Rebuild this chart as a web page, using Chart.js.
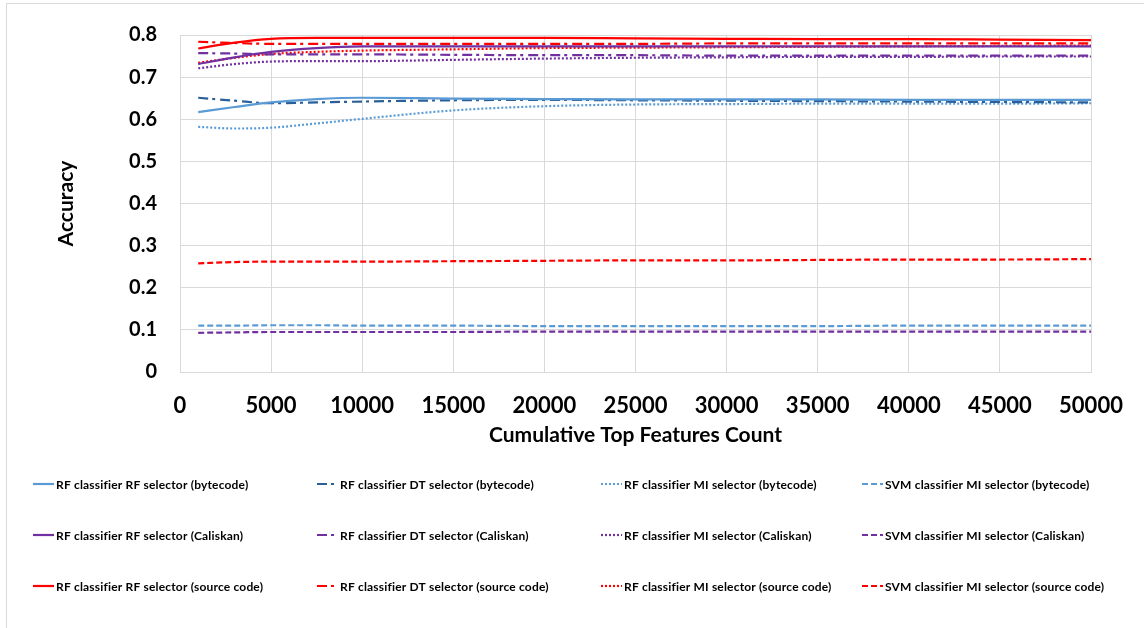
<!DOCTYPE html>
<html>
<head>
<meta charset="utf-8">
<title>Accuracy vs Cumulative Top Features Count</title>
<script src="https://cdn.jsdelivr.net/npm/chart.js@4.4.1/dist/chart.umd.min.js"></script>
<style>
  html, body { margin: 0; padding: 0; background: #ffffff; }
  #wrap { width: 1144px; height: 628px; position: relative; }
</style>
</head>
<body>
<div id="wrap"><canvas id="chart" width="1144" height="628"></canvas></div>
<script>
// Number of cumulative top features used at each measurement
const featureCounts = [1000, 3000, 5000, 7500, 10000, 15000, 20000, 25000, 30000, 35000, 40000, 45000, 50000];

// Bytecode features
const rfRfBytecode   = [0.617, 0.629, 0.640, 0.648, 0.651, 0.649, 0.648, 0.647, 0.647, 0.647, 0.646, 0.646, 0.646];
const rfDtBytecode   = [0.651, 0.644, 0.638, 0.640, 0.642, 0.645, 0.646, 0.645, 0.644, 0.643, 0.642, 0.641, 0.640];
const rfMiBytecode   = [0.582, 0.578, 0.580, 0.590, 0.601, 0.621, 0.631, 0.635, 0.636, 0.637, 0.637, 0.637, 0.638];
const svmMiBytecode  = [0.110, 0.110, 0.111, 0.111, 0.110, 0.110, 0.109, 0.109, 0.109, 0.109, 0.110, 0.110, 0.110];

// Caliskan features
const rfRfCaliskan   = [0.731, 0.747, 0.760, 0.769, 0.773, 0.773, 0.773, 0.773, 0.773, 0.773, 0.773, 0.773, 0.773];
const rfDtCaliskan   = [0.757, 0.756, 0.754, 0.754, 0.754, 0.753, 0.752, 0.752, 0.751, 0.751, 0.751, 0.751, 0.751];
const rfMiCaliskan   = [0.721, 0.731, 0.737, 0.738, 0.738, 0.741, 0.744, 0.746, 0.747, 0.748, 0.748, 0.749, 0.749];
const svmMiCaliskan  = [0.093, 0.094, 0.095, 0.095, 0.095, 0.095, 0.096, 0.096, 0.096, 0.096, 0.096, 0.096, 0.096];

// Source code features
const rfRfSource     = [0.768, 0.782, 0.791, 0.793, 0.793, 0.793, 0.793, 0.792, 0.791, 0.790, 0.790, 0.789, 0.788];
const rfDtSource     = [0.784, 0.781, 0.779, 0.779, 0.779, 0.779, 0.779, 0.779, 0.780, 0.780, 0.780, 0.780, 0.780];
const rfMiSource     = [0.734, 0.746, 0.755, 0.760, 0.763, 0.766, 0.769, 0.770, 0.771, 0.772, 0.773, 0.774, 0.775];
const svmMiSource    = [0.258, 0.261, 0.262, 0.262, 0.262, 0.263, 0.264, 0.265, 0.265, 0.266, 0.267, 0.267, 0.268];

const seriesLabels = [
  'RF classifier RF selector (bytecode)', 'RF classifier DT selector (bytecode)',
  'RF classifier MI selector (bytecode)', 'SVM classifier MI selector (bytecode)',
  'RF classifier RF selector (Caliskan)', 'RF classifier DT selector (Caliskan)',
  'RF classifier MI selector (Caliskan)', 'SVM classifier MI selector (Caliskan)',
  'RF classifier RF selector (source code)', 'RF classifier DT selector (source code)',
  'RF classifier MI selector (source code)', 'SVM classifier MI selector (source code)'
];
const seriesValues = [
  rfRfBytecode, rfDtBytecode, rfMiBytecode, svmMiBytecode,
  rfRfCaliskan, rfDtCaliskan, rfMiCaliskan, svmMiCaliskan,
  rfRfSource, rfDtSource, rfMiSource, svmMiSource
];

const xTickStep = 5000;
const yTickStep = 0.1;

// Styling: one colour per feature set, one dash style per classifier/selector
const featureColors = ['#5B9BD5', '#7030A0', '#FF0000'];
const dtBytecodeColor = '#2A6099';
const dashStyles = [[], [10, 4, 3, 5], [2, 2], [6, 3]];

const FONT = "Lato, 'Open Sans', 'DejaVu Sans', sans-serif";

const datasets = seriesLabels.map((label, i) => {
  const group = Math.floor(i / 4);
  const kind = i % 4;
  const color = (group === 0 && kind === 1) ? dtBytecodeColor : featureColors[group];
  return {
    label: label,
    data: featureCounts.map((x, j) => ({ x: x, y: seriesValues[i][j] })),
    borderColor: color,
    backgroundColor: color,
    borderWidth: 2.2,
    borderDash: dashStyles[kind],
    borderCapStyle: 'butt',
    pointRadius: 0,
    pointHoverRadius: 0,
    fill: false,
    cubicInterpolationMode: 'monotone'
  };
});

// White background and thin outer frame
const framePlugin = {
  id: 'frame',
  beforeDraw(chart) {
    const ctx = chart.ctx;
    ctx.save();
    ctx.fillStyle = '#ffffff';
    ctx.fillRect(0, 0, chart.width, chart.height);
    ctx.strokeStyle = '#D9D9D9';
    ctx.lineWidth = 1;
    ctx.strokeRect(6.5, 3.5, chart.width + 10, chart.height + 10);
    ctx.restore();
  }
};

// Legend laid out as a 4 x 3 grid under the plot
const gridLegendPlugin = {
  id: 'gridLegend',
  afterDraw(chart) {
    const ctx = chart.ctx;
    const colX = [33, 317, 601, 862];
    const rowY = [484, 535, 586];
    const sampleLen = 21;
    ctx.save();
    ctx.font = "bold 12px " + FONT;
    if ('letterSpacing' in ctx) ctx.letterSpacing = '0.18px';
    ctx.textBaseline = 'middle';
    ctx.textAlign = 'left';
    chart.data.datasets.forEach((ds, i) => {
      const col = i % 4;
      const row = Math.floor(i / 4);
      const x = colX[col];
      const y = rowY[row];
      ctx.beginPath();
      ctx.setLineDash(ds.borderDash || []);
      ctx.lineCap = 'butt';
      ctx.strokeStyle = ds.borderColor;
      ctx.lineWidth = 2.2;
      ctx.moveTo(x, y);
      ctx.lineTo(x + sampleLen, y);
      ctx.stroke();
      ctx.setLineDash([]);
      ctx.fillStyle = '#000000';
      ctx.fillText(ds.label, x + sampleLen + 2, y + 1);
    });
    ctx.restore();
  }
};

new Chart(document.getElementById('chart'), {
  type: 'line',
  data: { datasets: datasets },
  options: {
    responsive: false,
    animation: false,
    devicePixelRatio: 1,
    layout: { padding: { left: 0, top: 22, right: 53, bottom: 171 } },
    plugins: {
      legend: { display: false },
      tooltip: { enabled: false }
    },
    scales: {
      x: {
        type: 'linear',
        min: 0,
        max: 50000,
        afterFit(scale) { scale.height = 85; },
        afterBuildTicks(scale) {
          const t = [];
          for (let v = 0; v <= 50000; v += xTickStep) t.push({ value: v });
          scale.ticks = t;
        },
        grid: { color: '#D9D9D9', lineWidth: 1, drawTicks: false },
        border: { color: '#D9D9D9' },
        ticks: {
          padding: 21,
          maxRotation: 0,
          autoSkip: false,
          color: '#000000',
          font: { family: FONT, size: 22, weight: 'bold' },
          callback: (v) => String(v)
        },
        title: {
          display: true,
          text: 'Cumulative Top Features Count',
          color: '#000000',
          font: { family: FONT, size: 21, weight: 'bold' },
          padding: { top: 0, bottom: 9 }
        }
      },
      y: {
        min: 0,
        max: 0.8,
        afterFit(scale) { scale.width = 180; },
        grid: { color: '#D9D9D9', lineWidth: 1, drawTicks: false },
        border: { color: '#D9D9D9' },
        ticks: {
          stepSize: yTickStep,
          padding: 23,
          color: '#000000',
          font: { family: FONT, size: 20, weight: 'bold' },
          callback: (v) => (Math.round(v * 10) / 10).toString()
        },
        title: {
          display: true,
          text: 'Accuracy',
          color: '#000000',
          font: { family: FONT, size: 21, weight: 'bold' },
          padding: { top: 54, bottom: 0 }
        }
      }
    }
  },
  plugins: [framePlugin, gridLegendPlugin]
});
</script>
</body>
</html>
